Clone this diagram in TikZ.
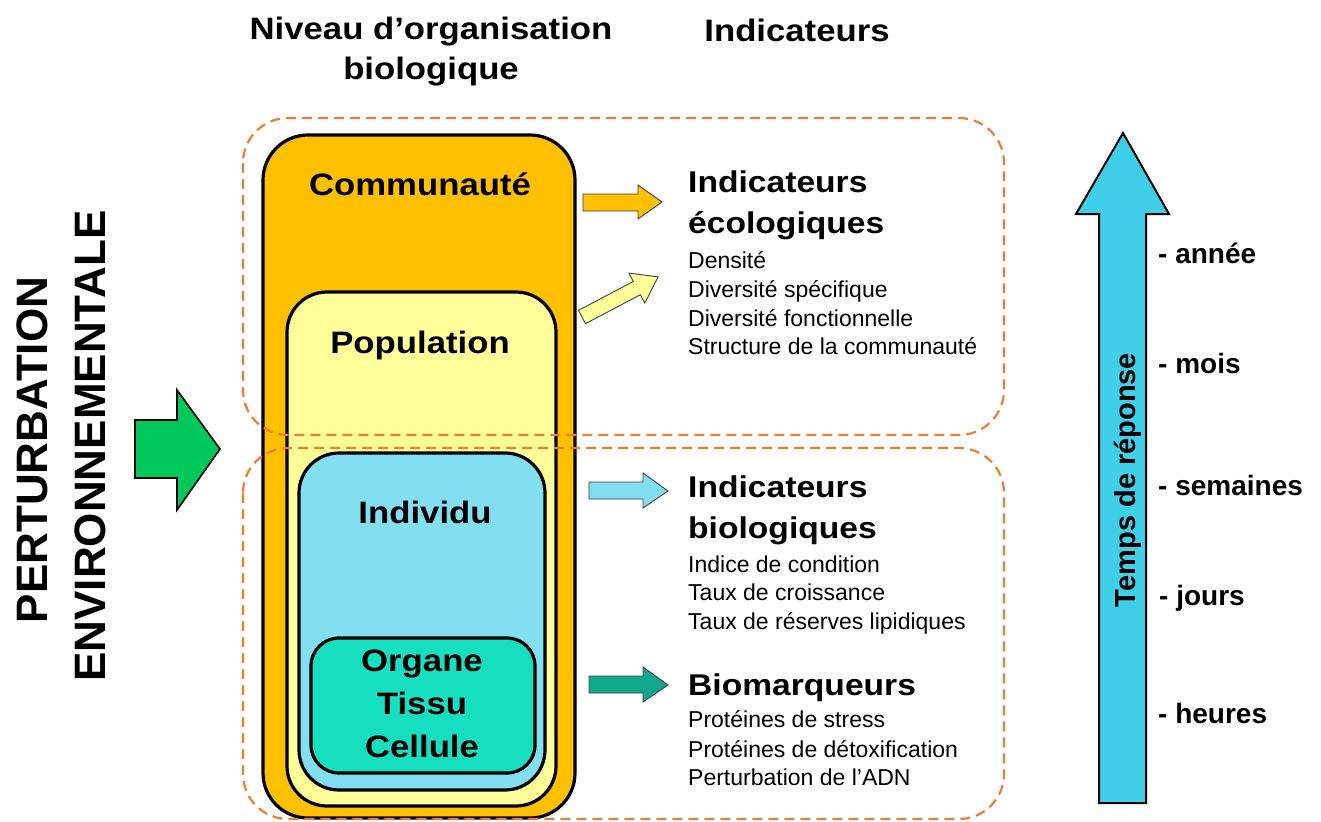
\documentclass[tikz,border=0pt]{standalone}
\usepackage{fontspec}
\setmainfont{Liberation Sans}
\newfontfamily\bw[FakeStretch=1.12]{Liberation Sans}
\definecolor{commc}{HTML}{FFC000}
\definecolor{popc}{HTML}{FFFF99}
\definecolor{indc}{HTML}{81DFF1}
\definecolor{orgc}{HTML}{15DFBE}
\definecolor{bioc}{HTML}{12A88C}
\definecolor{greenc}{HTML}{00C85A}
\definecolor{timec}{HTML}{3FCFE8}
\definecolor{dashorange}{HTML}{ED7D31}
\tikzset{
  lvlbox/.style={draw=black, line width=3.2pt, rounded corners=#1},
  dashbox/.style={draw=dashorange, line width=2.2pt, dash pattern=on 10pt off 6pt, rounded corners=45pt},
  blockarrow/.style={draw=black!75, line width=0.9pt, line join=miter},
  hdr/.style={font=\bw\bfseries\fontsize{31}{36}\selectfont, anchor=base, inner sep=0pt},
  lvl/.style={font=\bw\bfseries\fontsize{31}{36}\selectfont, anchor=base, inner sep=0pt},
  ind/.style={font=\bw\bfseries\fontsize{30}{36}\selectfont, anchor=base west, inner sep=0pt},
  item/.style={font=\fontsize{23}{28}\selectfont, anchor=base west, inner sep=0pt},
  timelbl/.style={font=\bfseries\fontsize{28}{32}\selectfont, anchor=base west, inner sep=0pt},
  vert/.style={font=\bfseries\fontsize{44}{50}\selectfont, rotate=90, anchor=base, inner sep=0pt},
}
\begin{document}
\begin{tikzpicture}[x=1pt, y=-1pt]
\useasboundingbox (0,0) rectangle (1321,821);

% nested level boxes
\draw[lvlbox=45pt, fill=commc] (263,135) rectangle (575,818);
\draw[lvlbox=40pt, fill=popc] (287,292) rectangle (556,806);
\draw[lvlbox=40pt, fill=indc] (299,453) rectangle (545,790);
\draw[lvlbox=28pt, fill=orgc] (311,638) rectangle (535,773);

% level labels
\node[lvl] (comm) at (420,195) {Communauté};
\node[lvl] (pop) at (420,353) {Population};
\node[lvl] (indiv) at (425,523) {Individu};
\node[lvl] (organe) at (422,671) {Organe};
\node[lvl] (tissu) at (422,714) {Tissu};
\node[lvl] (cellule) at (422,757) {Cellule};

% headers
\node[hdr] (h1a) at (431,40) {Niveau d’organisation};
\node[hdr] (h1b) at (431,80) {biologique};
\node[hdr] (h2) at (797,42) {Indicateurs};

% block arrows
\draw[blockarrow, fill=commc] (583,194) -- (638,194) -- (638,185) -- (662,202) -- (638,219) -- (638,211) -- (583,211) -- cycle;
\begin{scope}[shift={(582,317)}, rotate=27.8]
\draw[blockarrow, fill=popc] (0,-7.5) -- (62,-7.5) -- (62,-17) -- (86,0) -- (62,17) -- (62,7.5) -- (0,7.5) -- cycle;
\end{scope}
\draw[blockarrow, fill=indc] (589,482) -- (643,482) -- (643,473) -- (668,491) -- (643,508) -- (643,499) -- (589,499) -- cycle;
\draw[blockarrow, fill=bioc] (589,676) -- (643,676) -- (643,667) -- (668,685) -- (643,702) -- (643,693) -- (589,693) -- cycle;

% green perturbation arrow
\draw[draw=black, line width=1.6pt, fill=greenc, line join=miter] (135,420) -- (177,420) -- (177,390) -- (220,449) -- (177,510) -- (177,478) -- (135,478) -- cycle;

% vertical perturbation text
\node[vert] (pert1) at (47,450) {PERTURBATION};
\node[vert] (pert2) at (105,446) {ENVIRONNEMENTALE};

% indicator texts
\node[ind] (eco1) at (688,193) {Indicateurs};
\node[ind] (eco2) at (688,233) {écologiques};
\node[item] (e1) at (688,268) {Densité};
\node[item] (e2) at (688,297) {Diversité spécifique};
\node[item] (e3) at (688,326) {Diversité fonctionnelle};
\node[item] (e4) at (688,354) {Structure de la communauté};

\node[ind] (bio1) at (688,497) {Indicateurs};
\node[ind] (bio2) at (688,538) {biologiques};
\node[item] (b1) at (688,572) {Indice de condition};
\node[item] (b2) at (688,600) {Taux de croissance};
\node[item] (b3) at (688,629) {Taux de réserves lipidiques};

\node[ind] (bm) at (688,695) {Biomarqueurs};
\node[item] (m1) at (688,727) {Protéines de stress};
\node[item] (m2) at (688,757) {Protéines de détoxification};
\node[item] (m3) at (688,785) {Perturbation de l’ADN};

% time arrow
\draw[draw=black, line width=2pt, fill=timec, line join=miter] (1099,803) -- (1099,214) -- (1076,214) -- (1123,133) -- (1169,214) -- (1146,214) -- (1146,803) -- cycle;
\node[vert, font=\bfseries\fontsize{29}{33}\selectfont] (temps) at (1135,480) {Temps de réponse};

\node[timelbl] (t1) at (1158,263) {- année};
\node[timelbl] (t2) at (1158,373) {- mois};
\node[timelbl] (t3) at (1158,495) {- semaines};
\node[timelbl] (t4) at (1159,605) {- jours};
\node[timelbl] (t5) at (1158,723) {- heures};

% dashed groupings (on top)
\draw[dashbox] (243,118) rectangle (1004,435);
\draw[dashbox] (243,448) rectangle (1004,819);
\end{tikzpicture}
\end{document}
